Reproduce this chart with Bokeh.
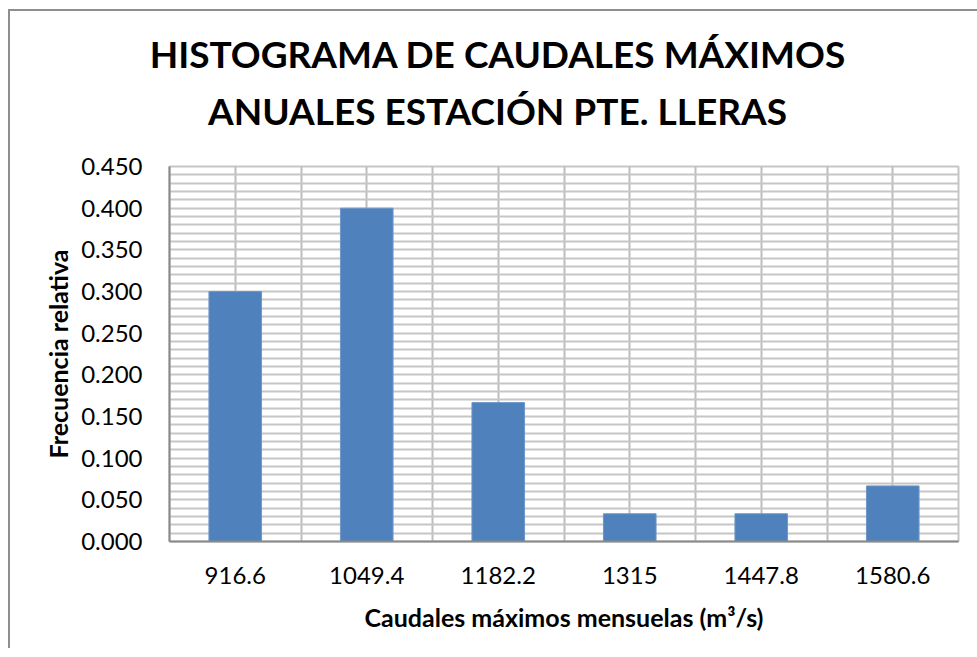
import numpy as np
from bokeh.plotting import figure
from bokeh.models import (Range1d, FixedTicker, SingleIntervalTicker, NumeralTickFormatter,
                          ColumnDataSource, Div)
from bokeh.layouts import column
from bokeh.embed import file_html
from bokeh.resources import INLINE

title_line1 = "HISTOGRAMA DE CAUDALES MÁXIMOS"
title_line2 = "ANUALES ESTACIÓN PTE. LLERAS"
x_title = "Caudales máximos mensuelas (m³/s)"
y_title = "Frecuencia relativa"

categories = ["916.6", "1049.4", "1182.2", "1315", "1447.8", "1580.6"]
frequencies = [0.300, 0.400, 0.1667, 0.0333, 0.0333, 0.0667]

FONT = "Lato"
n = len(categories)
pos = list(range(1, n + 1))
src = ColumnDataSource(dict(x=pos, top=frequencies, cat=categories))

title_div = Div(
    text=("<div style='width:961px; text-align:center; position:relative; left:2px; top:9px; "
          f"font-family:{FONT}; font-weight:bold; font-size:37px; line-height:57px; "
          "color:#000000; white-space:nowrap;'>"
          f"{title_line1}<br>{title_line2}</div>"),
    width=961, height=116)

p = figure(width=961, height=511, output_backend="svg", toolbar_location=None,
           x_range=Range1d(0.5, n + 0.5), y_range=Range1d(0, 0.45),
           min_border_left=159, min_border_right=13, min_border_top=29, min_border_bottom=107)

p.vbar(x="x", top="top", width=0.4, source=src, fill_color="#4F81BD",
       line_color="#6E97C9", line_width=1)

p.outline_line_color = "#c6c6c6"
p.outline_line_width = 2

# grids
p.xgrid.ticker = SingleIntervalTicker(interval=0.5)
p.xgrid.grid_line_color = "#bdbdbd"
p.xgrid.grid_line_width = 2
p.ygrid.ticker = SingleIntervalTicker(interval=0.01)
p.ygrid.grid_line_color = "#c6c6c6"
p.ygrid.grid_line_width = 2

# axes
xa = p.xaxis[0]
xa.ticker = FixedTicker(ticks=pos)
xa.major_label_overrides = {k: v for k, v in zip(pos, categories)}
xa.axis_label = x_title
ya = p.yaxis[0]
ya.ticker = SingleIntervalTicker(interval=0.05)
ya.formatter = NumeralTickFormatter(format="0.000")
ya.axis_label = y_title

for ax in (xa, ya):
    ax.axis_line_color = "#8a8a8a"
    ax.axis_line_width = 2
    ax.major_tick_out = 0
    ax.major_tick_in = 0
    ax.minor_tick_out = 0
    ax.minor_tick_in = 0
    ax.major_label_text_font = FONT
    ax.major_label_text_font_size = "24px"
    ax.major_label_text_color = "#000000"
    ax.axis_label_text_font = FONT
    ax.axis_label_text_font_size = "25px"
    ax.axis_label_text_font_style = "bold"
    ax.axis_label_text_color = "#000000"

xa.major_label_standoff = 25
xa.axis_label_standoff = 15
ya.major_label_standoff = 27
ya.axis_label_standoff = 5

p.background_fill_color = "white"
p.border_fill_color = "white"

layout = column(title_div, p, spacing=0,
                styles={"border-top": "2px solid #8e8e8e", "border-left": "2px solid #8e8e8e",
                        "margin-left": "8px", "margin-top": "9px"})

open("out.html", "w").write(file_html(layout, INLINE))
